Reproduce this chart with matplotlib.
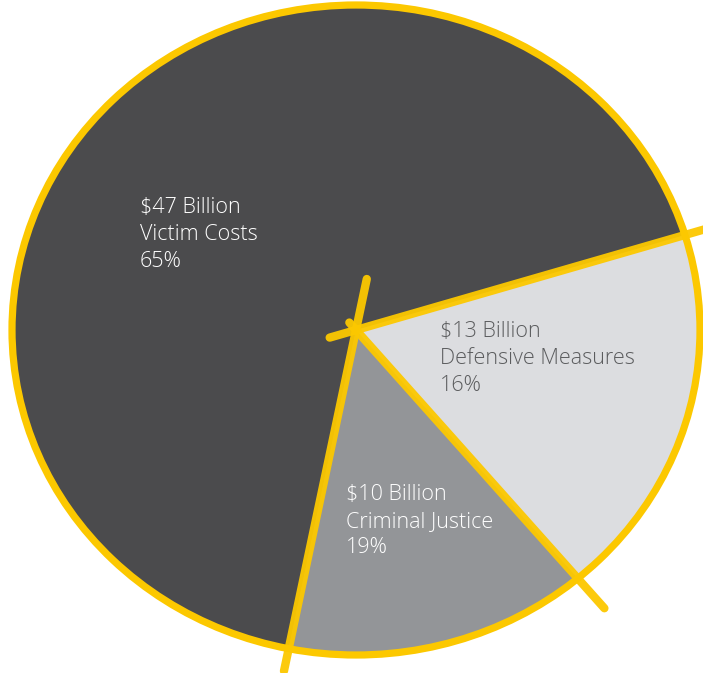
import numpy as np
import matplotlib.pyplot as plt
from matplotlib.patches import Circle

# cost breakdown (billions of dollars)
categories = ["Defensive Measures", "Criminal Justice", "Victim Costs"]
billions = [13, 10, 47]
pct_labels = ["16%", "19%", "65%"]

colors = ["#dcdde0", "#939598", "#4b4b4d"]
text_colors = ["#5b5c5e", "#ffffff", "#ffffff"]
yellow = "#fcc800"

# text anchors in axes fraction (top-left of each label block)
label_pos = [(0.626, 0.523), (0.492, 0.281), (0.199, 0.707)]
# how far each boundary line runs behind the centre / past the rim
line_ext = [(-0.08, 1.08), (-0.03, 1.12), (-0.16, 1.07)]

start = 17

fig = plt.figure(figsize=(7.03, 6.73), dpi=100)
ax = fig.add_axes([0, 0, 1, 1])

wedges, _ = ax.pie(billions, colors=colors, startangle=start, counterclock=False,
                   radius=1.0, wedgeprops=dict(edgecolor="none"))

# stretch the circle into the slightly wide ellipse of the original
ax.set_aspect("auto")
ax.set_xlim(-356 / 344, (703 - 356) / 344)
ax.set_ylim(-(673 - 330) / 325, 330 / 325)
ax.axis("off")

# yellow rim
ax.add_patch(Circle((0, 0), 1.0, fill=False, edgecolor=yellow, linewidth=5.2, zorder=3))

# boundary lines, one at the start angle of each wedge
fracs = np.array(billions) / sum(billions)
angles = start - 360 * np.concatenate([[0], np.cumsum(fracs)[:-1]])
for ang, (r0, r1) in zip(angles, line_ext):
    t = np.deg2rad(ang)
    ax.plot([r0 * np.cos(t), r1 * np.cos(t)], [r0 * np.sin(t), r1 * np.sin(t)],
            color=yellow, linewidth=6, solid_capstyle="round", zorder=4, alpha=0.95)

for name, b, p, (x, y), tc in zip(categories, billions, pct_labels, label_pos, text_colors):
    ax.text(x, y, f"${b} Billion\n{name}\n{p}", transform=ax.transAxes,
            ha="left", va="top", fontsize=15.5, color=tc, family="Open Sans",
            fontweight="light", linespacing=1.36, zorder=5)

fig.savefig("out.png", dpi=100)
